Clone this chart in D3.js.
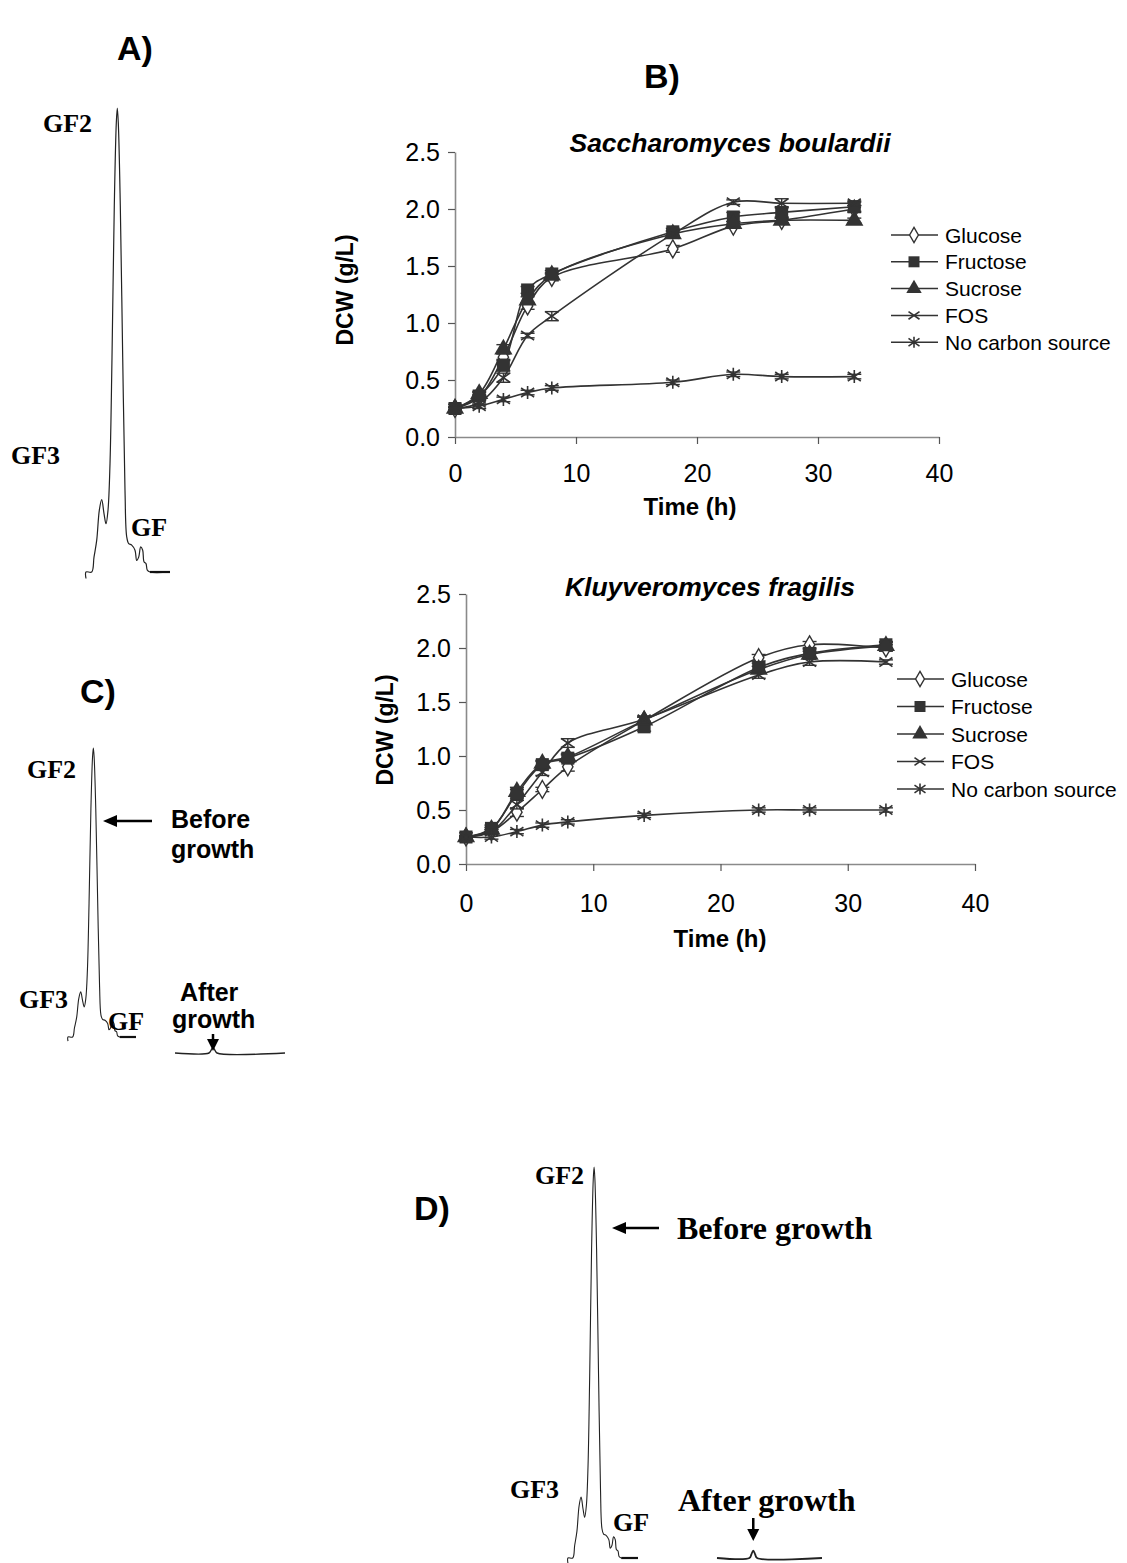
<!DOCTYPE html>
<html><head><meta charset="utf-8">
<script src="https://cdn.jsdelivr.net/npm/d3@7"></script>
<style>body{margin:0;background:#fff}svg{display:block}</style>
</head><body>
<svg id="fig" width="1127" height="1563"></svg>
<script>
// ---------------- DATA ----------------
const seriesNames = ["Glucose", "Fructose", "Sucrose", "FOS", "No carbon source"];
const markerTypes = ["diamond", "square", "triangle", "x", "asterisk"];
const xTicks = [0, 10, 20, 30, 40];
const yTicks = [0, 0.5, 1.0, 1.5, 2.0, 2.5];

// Saccharomyces boulardii
const timeSB = [0, 2, 4, 6, 8, 18, 23, 27, 33];
const sbGlucose  = [0.25, 0.35, 0.70, 1.15, 1.40, 1.65, 1.85, 1.90, 2.00];
const sbFructose = [0.25, 0.36, 0.63, 1.29, 1.43, 1.80, 1.93, 1.97, 2.02];
const sbSucrose  = [0.25, 0.38, 0.77, 1.20, 1.42, 1.78, 1.87, 1.90, 1.90];
const sbFOS      = [0.25, 0.30, 0.52, 0.89, 1.06, 1.78, 2.06, 2.05, 2.05];
const sbNoC      = [0.25, 0.27, 0.33, 0.39, 0.43, 0.48, 0.55, 0.53, 0.53];
const sbErrGlucose  = [0.01, 0.02, 0.03, 0.03, 0.03, 0.03, 0.02, 0.03, 0.03];
const sbErrFructose = [0.01, 0.03, 0.05, 0.03, 0.03, 0.03, 0.04, 0.05, 0.04];
const sbErrSucrose  = [0.01, 0.02, 0.04, 0.03, 0.02, 0.02, 0.02, 0.02, 0.02];
const sbErrFOS      = [0.01, 0.02, 0.04, 0.02, 0.04, 0.03, 0.02, 0.04, 0.02];
const sbErrNoC      = [0.01, 0.02, 0.02, 0.02, 0.02, 0.02, 0.02, 0.02, 0.02];

// Kluyveromyces fragilis
const timeKF = [0, 2, 4, 6, 8, 14, 23, 27, 33];
const kfGlucose  = [0.25, 0.30, 0.48, 0.69, 0.90, 1.33, 1.91, 2.03, 2.00];
const kfFructose = [0.25, 0.33, 0.65, 0.92, 0.98, 1.27, 1.82, 1.95, 2.03];
const kfSucrose  = [0.25, 0.32, 0.67, 0.93, 0.99, 1.33, 1.80, 1.94, 2.02];
const kfFOS      = [0.25, 0.30, 0.55, 0.85, 1.12, 1.34, 1.75, 1.87, 1.87];
const kfNoC      = [0.25, 0.25, 0.30, 0.36, 0.39, 0.45, 0.50, 0.50, 0.50];
const kfErrGlucose  = [0.01, 0.02, 0.04, 0.02, 0.04, 0.03, 0.03, 0.03, 0.03];
const kfErrFructose = [0.01, 0.03, 0.04, 0.03, 0.03, 0.04, 0.04, 0.04, 0.03];
const kfErrSucrose  = [0.01, 0.02, 0.04, 0.03, 0.03, 0.03, 0.03, 0.03, 0.03];
const kfErrFOS      = [0.01, 0.02, 0.04, 0.03, 0.04, 0.03, 0.03, 0.03, 0.02];
const kfErrNoC      = [0.01, 0.02, 0.02, 0.02, 0.02, 0.02, 0.02, 0.02, 0.02];

// HPLC trace of FOS (before growth), retention (a.u.) vs signal (% of GF2 peak)
const chromRetention = [0, 0, 5.7, 8, 10.7, 13.3, 15.7, 18, 20, 22, 24, 26, 28.3, 30.3, 31.3, 32.3, 34.3, 36.7, 39, 40.7, 42.7, 45.7, 49, 50.7, 52.7, 54.7, 56.7, 58, 60, 61.3, 64, 84];
const chromSignal    = [-1.4, 0, 0, 3.2, 6.8, 13.3, 15.6, 12.6, 10.4, 13.3, 23.3, 46.3, 79, 96.8, 100, 96.8, 79, 46.3, 17.6, 7.6, 6.1, 5.8, 4.7, 2.5, 3.2, 5.4, 4.7, 2.2, 1.8, 0.4, 0, 0];
const baselineFrom = 64;   // retention where the flat (heavier) baseline begins
// trace after growth
const afterRetention = [0, 34, 36, 38, 40, 42, 110];
const afterSignal    = [0, 0, 0.9, 1.9, 0.9, 0, 0];

// ---------------- DRAWING ----------------
const svg = d3.select("#fig");
const SANS = "'Liberation Sans', Arial, sans-serif";
const SERIF = "'Liberation Serif', 'Times New Roman', serif";
const INK = "#333";

function markerPath(type, s) {
  switch (type) {
    case "diamond": return d3.symbol(d3.symbolDiamond, s * s * 0.55)();
    case "square": return d3.symbol(d3.symbolSquare, s * s)();
    case "triangle": return d3.symbol(d3.symbolTriangle, s * s * 0.85)();
    case "x": { const h = s / 2; return `M${-h},${-h * 0.7}L${h},${h * 0.7}M${-h},${h * 0.7}L${h},${-h * 0.7}`; }
    case "asterisk": { const h = s / 2; return `M${-h},${-h * 0.7}L${h},${h * 0.7}M${-h},${h * 0.7}L${h},${-h * 0.7}M0,${-h}L0,${h}`; }
  }
}
function styleMarker(sel, type) {
  if (type === "diamond") sel.attr("fill", "#fff").attr("stroke", INK).attr("stroke-width", 1.4);
  else if (type === "square" || type === "triangle") sel.attr("fill", INK).attr("stroke", "none");
  else sel.attr("fill", "none").attr("stroke", INK).attr("stroke-width", 1.6);
}

function drawChart(cfg) {
  const g = svg.append("g");
  const x = d3.scaleLinear().domain([0, 40]).range(cfg.xRange);
  const y = d3.scaleLinear().domain([0, 2.5]).range(cfg.yRange);

  const ax = g.append("g").attr("transform", `translate(0,${cfg.yRange[0]})`)
    .call(d3.axisBottom(x).tickValues(xTicks).tickSize(7).tickPadding(cfg.xPad).tickSizeOuter(0).tickFormat(d3.format("d")));
  const ay = g.append("g").attr("transform", `translate(${cfg.xRange[0]},0)`)
    .call(d3.axisLeft(y).tickValues(yTicks).tickSize(7).tickPadding(8).tickSizeOuter(0).tickFormat(d3.format(".1f")));
  [ax, ay].forEach(a => {
    a.select(".domain").attr("stroke", "#8a8a8a").attr("stroke-width", 1.6);
    a.selectAll(".tick line").attr("stroke", "#555").attr("stroke-width", 1.2);
    a.selectAll("text").attr("font-family", SANS).attr("font-size", 25).attr("fill", "#000");
  });

  g.append("text").attr("x", cfg.titleX).attr("y", cfg.titleY).attr("text-anchor", "middle")
    .attr("font-family", SANS).attr("font-weight", "bold").attr("font-style", "italic").attr("font-size", 26.5)
    .text(cfg.title);
  g.append("text").attr("x", cfg.xLabX).attr("y", cfg.xLabY).attr("text-anchor", "middle")
    .attr("font-family", SANS).attr("font-weight", "bold").attr("font-size", 24).text("Time (h)");
  g.append("text").attr("transform", `translate(${cfg.yLabX},${cfg.yLabY}) rotate(-90)`).attr("text-anchor", "middle")
    .attr("font-family", SANS).attr("font-weight", "bold").attr("font-size", 23).text("DCW (g/L)");

  const line = d3.line().x((d, i) => x(cfg.time[i])).y(d => y(d)).curve(d3.curveCatmullRom.alpha(0.5));

  cfg.series.forEach(vals => {
    g.append("path").attr("d", line(vals)).attr("fill", "none").attr("stroke", INK).attr("stroke-width", 1.6);
  });
  cfg.series.forEach((vals, k) => {
    const errs = cfg.errors[k];
    const eb = g.append("g").attr("stroke", INK).attr("stroke-width", 1.4);
    vals.forEach((v, i) => {
      const cx = x(cfg.time[i]);
      const y1 = y(v + errs[i]), y2 = y(v - errs[i]);
      eb.append("line").attr("x1", cx).attr("x2", cx).attr("y1", y1).attr("y2", y2);
      eb.append("line").attr("x1", cx - 7).attr("x2", cx + 7).attr("y1", y1).attr("y2", y1);
      eb.append("line").attr("x1", cx - 7).attr("x2", cx + 7).attr("y1", y2).attr("y2", y2);
    });
    vals.forEach((v, i) => {
      g.append("path").attr("d", markerPath(markerTypes[k], 13))
        .attr("transform", `translate(${x(cfg.time[i])},${y(v)})`)
        .call(styleMarker, markerTypes[k]);
    });
  });

  const lg = g.append("g");
  seriesNames.forEach((name, k) => {
    const ly = cfg.legY + k * cfg.legStep;
    lg.append("line").attr("x1", cfg.legX).attr("x2", cfg.legX + 47).attr("y1", ly).attr("y2", ly)
      .attr("stroke", INK).attr("stroke-width", 1.5);
    lg.append("path").attr("d", markerPath(markerTypes[k], 11))
      .attr("transform", `translate(${cfg.legX + 23},${ly})`).call(styleMarker, markerTypes[k]);
    lg.append("text").attr("x", cfg.legX + 54).attr("y", ly + 7.5).attr("font-family", SANS)
      .attr("font-size", 21).text(name);
  });
}

drawChart({
  title: "Saccharomyces boulardii", titleX: 730, titleY: 152,
  xRange: [455, 939], yRange: [437, 152], xPad: 20,
  xLabX: 690, xLabY: 515, yLabX: 353, yLabY: 290,
  time: timeSB,
  series: [sbGlucose, sbFructose, sbSucrose, sbFOS, sbNoC],
  errors: [sbErrGlucose, sbErrFructose, sbErrSucrose, sbErrFOS, sbErrNoC],
  legX: 891, legY: 235, legStep: 26.8
});
drawChart({
  title: "Kluyveromyces fragilis", titleX: 710, titleY: 596,
  xRange: [466, 975], yRange: [864, 594], xPad: 23,
  xLabX: 720, xLabY: 947, yLabX: 393, yLabY: 730,
  time: timeKF,
  series: [kfGlucose, kfFructose, kfSucrose, kfFOS, kfNoC],
  errors: [kfErrGlucose, kfErrFructose, kfErrSucrose, kfErrFOS, kfErrNoC],
  legX: 897, legY: 679, legStep: 27.5
});

// ---------------- CHROMATOGRAMS ----------------
function drawTrace(xr, yr, rx, sig, domX, width, heavyFrom) {
  const x = d3.scaleLinear().domain(domX).range(xr);
  const y = d3.scaleLinear().domain([0, 100]).range(yr);
  const ln = d3.line().x((d, i) => x(rx[i])).y(d => y(d)).curve(d3.curveCatmullRom.alpha(0.5));
  svg.append("path").attr("d", ln(sig)).attr("fill", "none").attr("stroke", "#222").attr("stroke-width", width);
  if (heavyFrom !== undefined) {
    const idx = rx.map((r, i) => i).filter(i => rx[i] >= heavyFrom);
    const tail = d3.line().x(i => x(rx[i])).y(i => y(sig[i]));
    svg.append("path").attr("d", tail(idx)).attr("fill", "none").attr("stroke", "#111").attr("stroke-width", 2.2);
  }
  return { x, y };
}
function label(txt, xp, yp, size, fam) {
  svg.append("text").attr("x", xp).attr("y", yp).attr("font-family", fam || SERIF)
    .attr("font-weight", "bold").attr("font-size", size).text(txt);
}
function hArrow(x1, x2, yv) {
  svg.append("line").attr("x1", x1).attr("x2", x2 + 10).attr("y1", yv).attr("y2", yv).attr("stroke", "#000").attr("stroke-width", 2.5);
  svg.append("path").attr("d", `M${x2},${yv}L${x2 + 14},${yv - 6}L${x2 + 14},${yv + 6}Z`).attr("fill", "#000");
}
function vArrow(xv, y1, y2) {
  svg.append("line").attr("x1", xv).attr("x2", xv).attr("y1", y1).attr("y2", y2 - 8).attr("stroke", "#000").attr("stroke-width", 2.5);
  svg.append("path").attr("d", `M${xv},${y2}L${xv - 6},${y2 - 12}L${xv + 6},${y2 - 12}Z`).attr("fill", "#000");
}

// Panel A
label("A)", 117, 60, 34, SANS);
drawTrace([86, 170], [572, 108], chromRetention, chromSignal, [0, 84], 1.2, baselineFrom);
label("GF2", 43, 132, 26);
label("GF3", 11, 464, 26);
label("GF", 131, 536, 26);

// Panel B letter
label("B)", 644, 88, 34, SANS);

// Panel C
label("C)", 80, 703, 34, SANS);
drawTrace([68, 136], [1037, 748], chromRetention, chromSignal, [0, 84], 1.1, baselineFrom);
label("GF2", 27, 778, 26);
label("GF3", 19, 1008, 26);
label("GF", 108, 1030, 26);
hArrow(152, 103, 821);
label("Before", 171, 828, 25, SANS);
label("growth", 171, 858, 25, SANS);
const aC = drawTrace([175, 285], [1053, 764], afterRetention, afterSignal, [0, 110], 1.4);
label("After", 180, 1001, 25, SANS);
label("growth", 172, 1028, 25, SANS);
vArrow(aC.x(38), 1034, 1051);

// Panel D
label("D)", 414, 1220, 34, SANS);
drawTrace([568, 638], [1558, 1167], chromRetention, chromSignal, [0, 84], 1.1, baselineFrom);
label("GF2", 535, 1184, 26);
label("GF3", 510, 1498, 26);
label("GF", 613, 1531, 26);
hArrow(659, 612, 1228);
label("Before growth", 677, 1239, 32);
const aD = drawTrace([717, 822], [1558, 1167], afterRetention, afterSignal, [0, 110], 1.8);
label("After growth", 678, 1511, 32);
vArrow(aD.x(38), 1518, 1541);
</script>
</body></html>
